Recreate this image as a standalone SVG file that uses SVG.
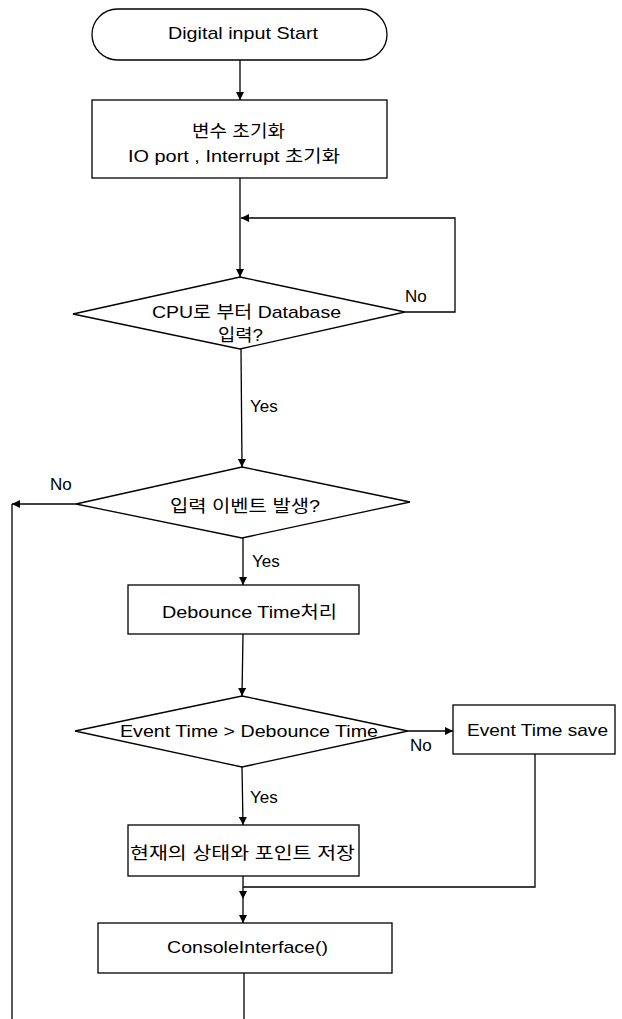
<svg xmlns="http://www.w3.org/2000/svg" width="622" height="1019" viewBox="0 0 622 1019">
<style>
.s{fill:#fff;stroke:#000;stroke-width:1.3}
.c{fill:none;stroke:#000;stroke-width:1.3}
text{font-family:"Liberation Sans","Noto Sans CJK KR",sans-serif;font-size:17px;fill:#000}
</style>
<defs>
<marker id="a" viewBox="0 0 10 10" refX="10" refY="5" markerWidth="8" markerHeight="8" markerUnits="userSpaceOnUse" orient="auto">
<path d="M0,0 L10,5 L0,10 Z" fill="#000"/>
</marker>
</defs>
<rect width="622" height="1019" fill="#fff"/>
<g id="connectors">
<line class="c" x1="240" y1="60" x2="240" y2="100" marker-end="url(#a)"/>
<line class="c" x1="240" y1="178" x2="240" y2="277" marker-end="url(#a)"/>
<polyline class="c" points="405,312 455,312 455,218 241,218" marker-end="url(#a)"/>
<line class="c" x1="241" y1="349" x2="242" y2="467" marker-end="url(#a)"/>
<line class="c" x1="76" y1="504" x2="12" y2="504" marker-end="url(#a)"/>
<line class="c" x1="12" y1="504" x2="12" y2="1019"/>
<line class="c" x1="243" y1="538" x2="243" y2="585" marker-end="url(#a)"/>
<line class="c" x1="243" y1="634" x2="242" y2="696" marker-end="url(#a)"/>
<line class="c" x1="408" y1="731" x2="453" y2="731" marker-end="url(#a)"/>
<line class="c" x1="242" y1="767" x2="243" y2="825" marker-end="url(#a)"/>
<polyline class="c" points="535,754 535,887 243,887"/>
<line class="c" x1="243" y1="876" x2="243" y2="899" marker-end="url(#a)"/>
<line class="c" x1="243" y1="899" x2="243" y2="923" marker-end="url(#a)"/>
<line class="c" x1="244" y1="973" x2="244" y2="1019"/>
</g>
<g id="start">
<rect class="s" x="92" y="9" width="295" height="51" rx="25.5" ry="25.5"/>
<text x="168" y="39" textLength="150" lengthAdjust="spacingAndGlyphs">Digital input Start</text>
</g>
<g id="init">
<rect class="s" x="92" y="100" width="295" height="78"/>
<text x="192" y="137" textLength="93" lengthAdjust="spacingAndGlyphs">변수 초기화</text>
<text x="128" y="162" textLength="212" lengthAdjust="spacingAndGlyphs">IO port , Interrupt 초기화</text>
</g>
<g id="dbinput">
<polygon class="s" points="240,277 405,312 240,349 73,314"/>
<text x="152" y="318" textLength="189" lengthAdjust="spacingAndGlyphs">CPU로 부터 Database</text>
<text x="218" y="341" textLength="45" lengthAdjust="spacingAndGlyphs">입력?</text>
</g>
<g id="event">
<polygon class="s" points="242,467 410,502 242,538 76,504"/>
<text x="170" y="512" textLength="150" lengthAdjust="spacingAndGlyphs">입력 이벤트 발생?</text>
</g>
<g id="debounce">
<rect class="s" x="128" y="585" width="231" height="49"/>
<text x="162" y="618" textLength="175" lengthAdjust="spacingAndGlyphs">Debounce Time처리</text>
</g>
<g id="compare">
<polygon class="s" points="242,696 408,731 242,767 75,731"/>
<text x="120" y="737" textLength="258" lengthAdjust="spacingAndGlyphs">Event Time &gt; Debounce Time</text>
</g>
<g id="timesave">
<rect class="s" x="453" y="705" width="162" height="49"/>
<text x="467" y="736" textLength="141" lengthAdjust="spacingAndGlyphs">Event Time save</text>
</g>
<g id="store">
<rect class="s" x="128" y="825" width="231" height="51"/>
<text x="130" y="859" textLength="225" lengthAdjust="spacingAndGlyphs">현재의 상태와 포인트 저장</text>
</g>
<g id="console">
<rect class="s" x="98" y="923" width="294" height="50"/>
<text x="167" y="953" textLength="161" lengthAdjust="spacingAndGlyphs">ConsoleInterface()</text>
</g>
<g id="labels">
<text x="405" y="302">No</text>
<text x="250" y="412">Yes</text>
<text x="50" y="490">No</text>
<text x="252" y="567">Yes</text>
<text x="410" y="751">No</text>
<text x="250" y="803">Yes</text>
</g>
</svg>
